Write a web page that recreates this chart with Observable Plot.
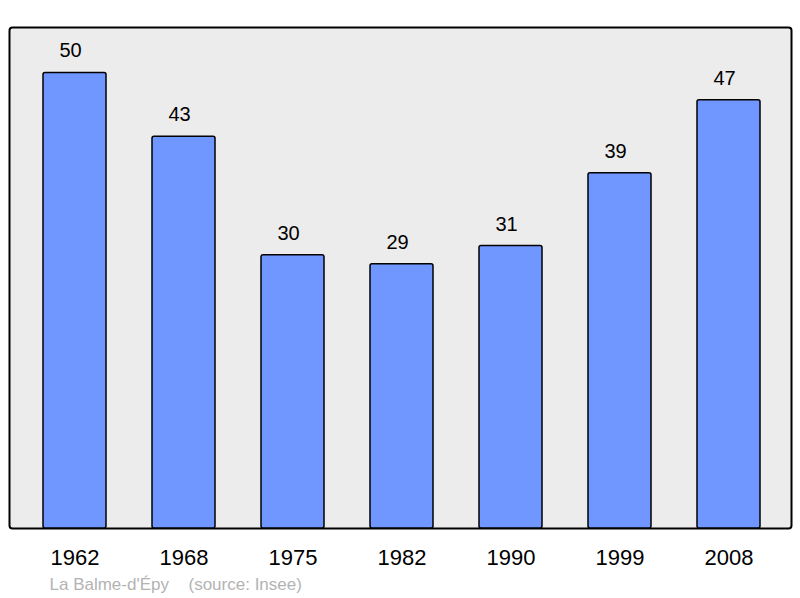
<!DOCTYPE html>
<html>
<head>
<meta charset="utf-8">
<script src="https://cdn.jsdelivr.net/npm/d3@7"></script>
<script src="https://cdn.jsdelivr.net/npm/@observablehq/plot@0.6"></script>
<style>
  html, body { margin: 0; padding: 0; background: #ffffff; }
  svg { display: block; }
</style>
</head>
<body>
<div id="chart"></div>
<script>
const years = ["1962", "1968", "1975", "1982", "1990", "1999", "2008"];
const population = [50, 43, 30, 29, 31, 39, 47];
const placeName = "La Balme-d'Épy";
const sourceText = "(source: Insee)";

const data = years.map((year, i) => ({year, value: population[i]}));

const chart = Plot.plot({
  width: 800,
  height: 598,
  marginTop: 27,
  marginBottom: 70,
  marginLeft: 9,
  marginRight: 9,
  style: {fontFamily: "'Liberation Sans', Arial, sans-serif", background: "#ffffff"},
  x: {domain: years, range: [19, 784], paddingInner: 0.424, paddingOuter: 0.212, axis: null},
  y: {domain: [0, 55], axis: null},
  marks: [
    Plot.frame({fill: "#ececec", stroke: "#000000", strokeWidth: 2, rx: 3}),
    Plot.barY(data, {x: "year", y: "value", fill: "#7097ff", stroke: "#000000", strokeWidth: 1.5, rx: 2}),
    Plot.text(data, {x: "year", y: "value", text: d => String(d.value), dx: -4.5, dy: -22, fontSize: 20, fill: "#000000", lineAnchor: "middle"}),
    Plot.text(data, {x: "year", text: "year", frameAnchor: "bottom", dy: 29, fontSize: 22, fill: "#000000", lineAnchor: "middle"}),
    Plot.text([placeName], {text: d => d, frameAnchor: "bottom-left", dx: 40, dy: 56, textAnchor: "start", fontSize: 17, fill: "#b3b3b3", lineAnchor: "middle"}),
    Plot.text([sourceText], {text: d => d, frameAnchor: "bottom-left", dx: 179, dy: 56, textAnchor: "start", fontSize: 17, fill: "#b3b3b3", lineAnchor: "middle"})
  ]
});
document.getElementById("chart").appendChild(chart);
</script>
</body>
</html>
